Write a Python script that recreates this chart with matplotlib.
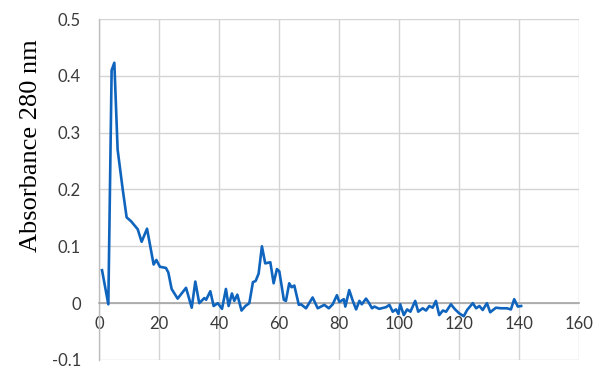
import matplotlib
matplotlib.use('Agg')
import matplotlib.pyplot as plt

# fraction number vs absorbance
fraction = [1, 3.1, 4.2, 5.1, 6.2, 7.9, 9.2, 10.7, 12.9, 14.2, 16, 18.2, 19.1, 20.3,
            22.3, 23.1, 24.2, 26.2, 29, 30.9, 32.1, 33.4, 35.1, 35.7, 37.1, 38.2,
            39.6, 41, 42.3, 43.2, 44.3, 45.1, 46.1, 47.5, 48.8, 50.1, 51.3, 52.2,
            53.2, 54.3, 55.4, 57.1, 58.2, 59.3, 60.1, 61.6, 62.3, 63.4, 64.2, 65.1,
            66.6, 67.3, 69, 71.2, 72.9, 75.1, 76.6, 77.9, 79.3, 80.1, 81.6, 82.1,
            83.4, 84.6, 85.7, 86.8, 87.6, 89, 89.8, 91, 91.8, 93.4, 95.7, 96.8,
            97.9, 99, 99.8, 100.4, 101.6, 102.7, 103.8, 105.4, 106.4, 107.9, 109,
            110.1, 111.2, 112.3, 113.4, 114.6, 115.7, 117.3, 118.7, 120.1, 121.6,
            122.7, 124.6, 125.7, 126.8, 127.9, 129.3, 130.4, 132.3, 134, 136,
            137.3, 138.4, 139.6, 140.7]
absorbance = [0.058, -0.002, 0.41, 0.423, 0.27, 0.2, 0.151, 0.144, 0.13, 0.108, 0.131,
              0.068, 0.076, 0.064, 0.062, 0.054, 0.025, 0.008, 0.027, -0.008, 0.038,
              0.0, 0.009, 0.006, 0.021, -0.005, 0.0, -0.01, 0.025, -0.005, 0.017,
              0.004, 0.015, -0.013, -0.005, 0.0, 0.037, 0.039, 0.052, 0.1, 0.07,
              0.072, 0.035, 0.06, 0.056, 0.006, 0.004, 0.035, 0.028, 0.031, -0.003,
              -0.002, -0.009, 0.01, -0.009, -0.003, -0.009, -0.002, 0.014, 0.002,
              0.007, -0.006, 0.023, 0.004, -0.011, 0.004, -0.002, 0.008, 0.002,
              -0.009, -0.006, -0.01, -0.007, -0.003, -0.015, -0.011, -0.019, -0.002,
              -0.021, -0.011, -0.015, 0.004, -0.015, -0.009, -0.013, -0.005, -0.008,
              0.004, -0.021, -0.013, -0.015, -0.002, -0.011, -0.018, -0.023, -0.012,
              0.0, -0.009, -0.005, -0.012, 0.0, -0.016, -0.008, -0.009, -0.009,
              -0.011, 0.007, -0.006, -0.005]

x_ticks = [0, 20, 40, 60, 80, 100, 120, 140, 160]
y_ticks = [-0.1, 0, 0.1, 0.2, 0.3, 0.4, 0.5]

fig = plt.figure(figsize=(6.02, 3.69), dpi=100)
ax = fig.add_axes([0.1645, 0.0244, 0.7973, 0.9241])

ax.plot(fraction, absorbance, color='#0f64be', linewidth=1.9, zorder=3,
        solid_joinstyle='round')

ax.set_xlim(0, 160)
ax.set_ylim(-0.1, 0.5)
ax.set_xticks(x_ticks)
ax.set_yticks(y_ticks)
ax.set_xticklabels([str(t) for t in x_ticks])
ax.set_yticklabels(['-0.1', '0', '0.1', '0.2', '0.3', '0.4', '0.5'])

ax.grid(True, color='#d4d4d4', linewidth=1.0)
ax.set_axisbelow(True)

for s in ['top', 'right']:
    ax.spines[s].set_visible(False)
ax.spines['bottom'].set_position(('data', 0))
ax.spines['bottom'].set_color('#a6a6a6')
ax.spines['bottom'].set_linewidth(1.2)
ax.spines['left'].set_color('#bdbdbd')
ax.spines['left'].set_linewidth(1.0)

ax.tick_params(length=0, labelsize=12, labelcolor='#3a3a3a')
ax.tick_params(axis='x', pad=9)
ax.tick_params(axis='y', pad=13)
for lab in ax.get_xticklabels() + ax.get_yticklabels():
    lab.set_family(['Lato', 'DejaVu Sans'])

ax.set_ylabel('Absorbance 280 nm', family=['Liberation Serif', 'DejaVu Serif'],
              fontsize=19)
ax.yaxis.set_label_coords(-0.118, 0.63)

fig.savefig('out.png', dpi=100)
